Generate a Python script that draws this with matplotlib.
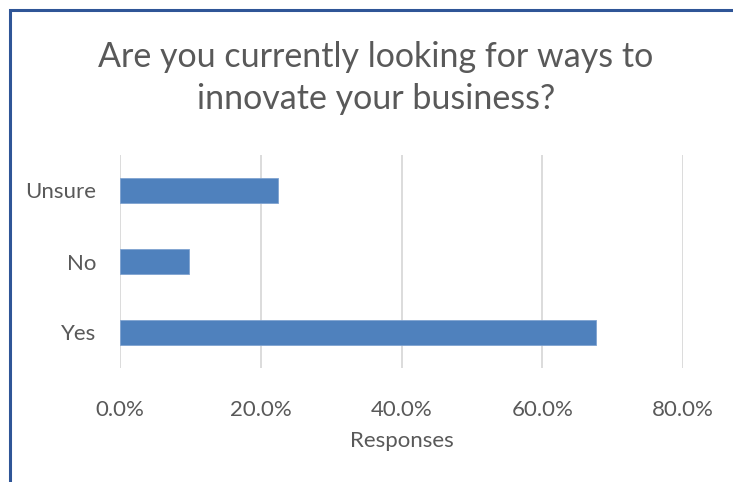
import matplotlib
matplotlib.use("Agg")
import matplotlib.pyplot as plt
from matplotlib.ticker import PercentFormatter
from matplotlib.patches import Rectangle

categories = ["Yes", "No", "Unsure"]
responses = [0.677, 0.098, 0.225]
x_ticks = [0.0, 0.2, 0.4, 0.6, 0.8]

title = "Are you currently looking for ways to\ninnovate your business?"
x_label = "Responses"

text_color = "#595959"
bar_color = "#4F81BD"
grid_color = "#D9D9D9"
frame_color = "#2F5597"

plt.rcParams["font.family"] = ["Lato", "DejaVu Sans"]

W, H = 733, 482
fig = plt.figure(figsize=(W / 100, H / 100), dpi=100)

# chart frame (only its top and left edges fall inside the image)
fig.patches.append(Rectangle((10 / W, -0.1), 1.2, 1 - 10 / H + 0.1,
                             transform=fig.transFigure, fill=False,
                             edgecolor=frame_color, linewidth=2.2))

ax = fig.add_axes([120 / W, 1 - 368 / H, (683 - 120) / W, (368 - 155) / H])
ax.barh(categories, responses, height=0.35, color=bar_color,
        edgecolor="#7FA3D1", linewidth=0.6, zorder=3)
ax.set_xlim(0, 0.8)
ax.set_ylim(-0.5, 2.5)
ax.set_xticks(x_ticks)
ax.xaxis.set_major_formatter(PercentFormatter(1.0, decimals=1))
ax.grid(axis="x", color=grid_color, linewidth=1.3, zorder=0)
for s in ax.spines.values():
    s.set_visible(False)
ax.tick_params(axis="both", length=0, labelsize=16, labelcolor=text_color)
ax.tick_params(axis="x", pad=23)
ax.tick_params(axis="y", pad=17)
ax.set_xlabel(x_label, fontsize=16, color=text_color, labelpad=8)

fig.text(376 / W, 1 - 78 / H, title, ha="center", va="center",
         fontsize=24.5, color=text_color, linespacing=1.38)

fig.savefig("out.png", dpi=100)
